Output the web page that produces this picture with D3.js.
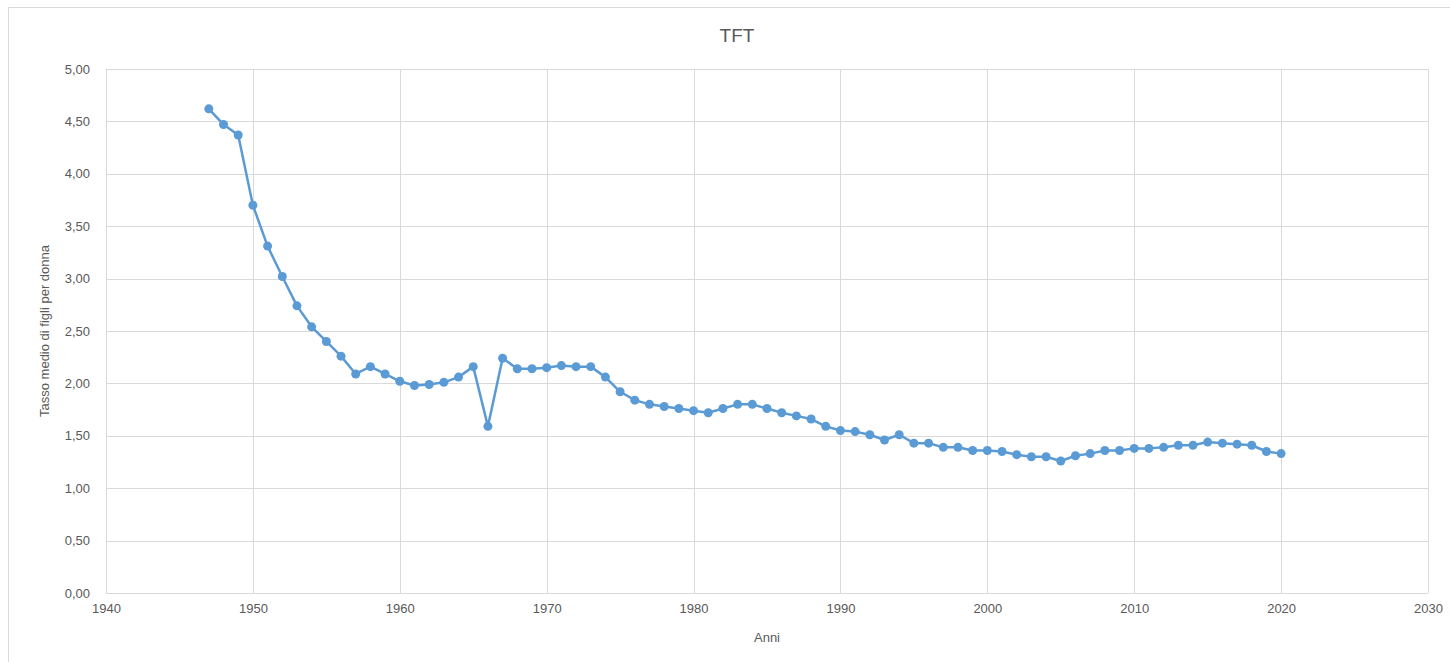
<!DOCTYPE html>
<html>
<head>
  <meta charset="utf-8">
  <script src="https://d3js.org/d3.v7.min.js"></script>
  <style>
    body { margin: 0; background: #fff; }
    #chart { width: 1450px; height: 662px; }
    text { font-family: "Liberation Sans", Arial, sans-serif; fill: #595959; }
    .axis text { font-size: 13px; }
    .axis path, .axis line { stroke: #d9d9d9; }
  </style>
</head>
<body>
  <div id="chart"></div>
  <script>
    // years and total fertility rate (TFT)
    const years = d3.range(1947, 2021);
    const tft = [
      4.62, 4.47, 4.37, 3.70, 3.31, 3.02, 2.74, 2.54, 2.40, 2.26,
      2.09, 2.16, 2.09, 2.02, 1.98, 1.99, 2.01, 2.06, 2.16, 1.59,
      2.24, 2.14, 2.14, 2.15, 2.17, 2.16, 2.16, 2.06, 1.92, 1.84,
      1.80, 1.78, 1.76, 1.74, 1.72, 1.76, 1.80, 1.80, 1.76, 1.72,
      1.69, 1.66, 1.59, 1.55, 1.54, 1.51, 1.46, 1.51, 1.43, 1.43,
      1.39, 1.39, 1.36, 1.36, 1.35, 1.32, 1.30, 1.30, 1.26, 1.31,
      1.33, 1.36, 1.36, 1.38, 1.38, 1.39, 1.41, 1.41, 1.44, 1.43,
      1.42, 1.41, 1.35, 1.33
    ];
    const xTicks = [1940, 1950, 1960, 1970, 1980, 1990, 2000, 2010, 2020, 2030];
    const yTicks = [0, 0.5, 1, 1.5, 2, 2.5, 3, 3.5, 4, 4.5, 5];

    const data = years.map(function(y, i) { return {year: y, value: tft[i]}; });

    const width = 1450, height = 662;
    const margin = {top: 69, left: 106, right: 22, bottom: 69};

    const svg = d3.select("#chart").append("svg")
      .attr("width", width)
      .attr("height", height);

    // chart border (only top and left edges are in view)
    svg.append("path")
      .attr("d", "M8.5,662V7.5H1450")
      .attr("fill", "none")
      .attr("stroke", "#d9d9d9");

    const x = d3.scaleLinear()
      .domain([1940, 2030])
      .range([margin.left, width - margin.right]);

    const y = d3.scaleLinear()
      .domain([0, 5])
      .range([height - margin.bottom, margin.top]);

    // grid
    svg.append("g").selectAll("line.h")
      .data(yTicks).enter().append("line")
        .attr("x1", x(1940)).attr("x2", x(2030))
        .attr("y1", function(d) { return Math.round(y(d)) + 0.5; })
        .attr("y2", function(d) { return Math.round(y(d)) + 0.5; })
        .attr("stroke", "#d9d9d9");

    svg.append("g").selectAll("line.v")
      .data(xTicks).enter().append("line")
        .attr("x1", function(d) { return Math.round(x(d)) + 0.5; })
        .attr("x2", function(d) { return Math.round(x(d)) + 0.5; })
        .attr("y1", y(5)).attr("y2", y(0))
        .attr("stroke", "#d9d9d9");

    // axes
    const fmt = function(d) { return d3.format(".2f")(d).replace(".", ","); };

    svg.append("g")
      .attr("class", "axis")
      .attr("transform", `translate(0, ${y(0) + 0.5})`)
      .call(d3.axisBottom(x).tickValues(xTicks).tickFormat(d3.format("d")).tickSize(0).tickPadding(10))
      .call(function(g) { g.select(".domain").remove(); });

    svg.append("g")
      .attr("class", "axis")
      .attr("transform", `translate(${x(1940) - 16}, 0)`)
      .call(d3.axisLeft(y).tickValues(yTicks).tickFormat(fmt).tickSize(0).tickPadding(0))
      .call(function(g) { g.select(".domain").remove(); });

    // titles
    svg.append("text")
      .attr("x", 737).attr("y", 42)
      .attr("text-anchor", "middle")
      .style("font-size", "19px")
      .text("TFT");

    svg.append("text")
      .attr("x", x(1985)).attr("y", 642)
      .attr("text-anchor", "middle")
      .style("font-size", "13px")
      .text("Anni");

    svg.append("text")
      .attr("transform", "rotate(-90)")
      .attr("x", -y(2.5)).attr("y", 49)
      .attr("text-anchor", "middle")
      .style("font-size", "13px")
      .text("Tasso medio di figli per donna");

    // line and markers
    const line = d3.line()
      .x(function(d) { return x(d.year); })
      .y(function(d) { return y(d.value); });

    svg.append("path")
      .datum(data)
      .attr("d", line)
      .attr("fill", "none")
      .attr("stroke", "#5b9bd5")
      .attr("stroke-width", 2.5)
      .attr("stroke-linejoin", "round");

    svg.selectAll("circle")
      .data(data).enter().append("circle")
        .attr("cx", function(d) { return x(d.year); })
        .attr("cy", function(d) { return y(d.value); })
        .attr("r", 4.5)
        .attr("fill", "#5b9bd5");
  </script>
</body>
</html>
